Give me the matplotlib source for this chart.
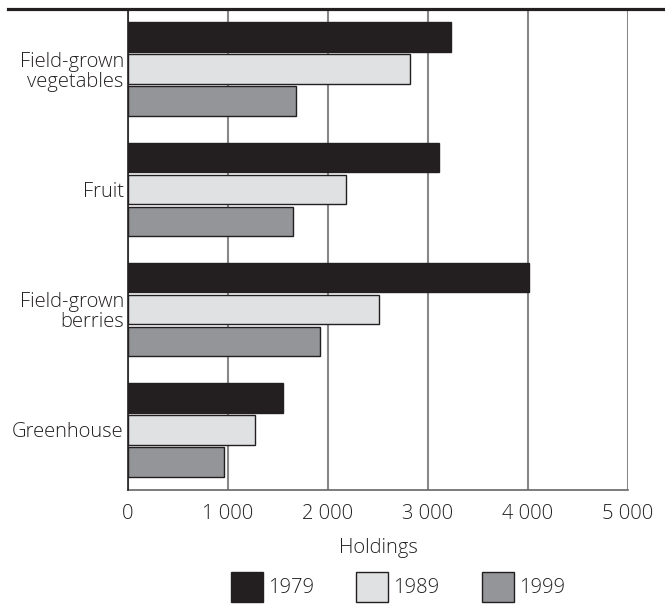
import matplotlib
matplotlib.use("Agg")
import matplotlib.pyplot as plt
import numpy as np
from matplotlib.lines import Line2D

plt.rcParams['font.family'] = ['Open Sans', 'DejaVu Sans']
plt.rcParams['font.weight'] = 'light'
plt.rcParams['axes.labelweight'] = 'light'

categories = ["Field-grown\nvegetables", "Fruit", "Field-grown\nberries", "Greenhouse"]
years = ["1979", "1989", "1999"]
v1979 = [3230, 3110, 4010, 1550]
v1989 = [2820, 2180, 2510, 1270]
v1999 = [1680, 1650, 1920, 960]
xticks = [0, 1000, 2000, 3000, 4000, 5000]
xticklabels = ["0", "1 000", "2 000", "3 000", "4 000", "5 000"]

colors = ["#231f20", "#e0e1e2", "#939598"]
ink = "#231f20"

W, H = 665, 604
fig = plt.figure(figsize=(W / 100, H / 100), dpi=100)
ax = fig.add_axes([128 / W, 1 - 490 / H, 500 / W, 481 / H])

y = np.arange(len(categories))
step = 32 / 120
h = 29.5 / 120
series = [v1979, v1989, v1999]
for i, (vals, c, lab) in enumerate(zip(series, colors, years)):
    ax.barh(y + (i - 1) * step, vals, height=h, color=c, edgecolor=ink,
            linewidth=1.0, label=lab, zorder=3)

ax.set_xlim(0, 5000)
ax.set_ylim(3.5, -0.5)
ax.set_xticks(xticks)
ax.set_xticklabels(xticklabels)
ax.set_yticks(y)
ax.set_yticklabels(categories, linespacing=1.0)
ax.tick_params(axis='both', length=0, labelsize=14.5, colors=ink)
ax.tick_params(axis='x', pad=10)
ax.tick_params(axis='y', pad=3)
ax.xaxis.grid(True, color="#888888", linewidth=1.5, zorder=0)
ax.set_axisbelow(True)
for s in ["top", "right"]:
    ax.spines[s].set_visible(False)
ax.spines["left"].set_color(ink)
ax.spines["left"].set_linewidth(1.2)
ax.spines["left"].set_zorder(4)
ax.spines["bottom"].set_color("#666666")
ax.spines["bottom"].set_linewidth(1.2)

ax.set_xlabel("Holdings", fontsize=14.5, color=ink, labelpad=10,
              fontweight='light')

fig.add_artist(Line2D([8 / W, 1.0], [1 - 8.5 / H, 1 - 8.5 / H],
                      transform=fig.transFigure, color=ink, linewidth=2.3))

fs_px = 14.5 * 100 / 72
fig.legend(loc="center", bbox_to_anchor=(398 / W, 1 - 587 / H), ncol=3,
           frameon=False, fontsize=14.5, handlelength=32 / fs_px,
           handleheight=38 / fs_px, handletextpad=5 / fs_px,
           columnspacing=42 / fs_px, borderpad=0, labelcolor=ink)

fig.savefig("out.png", dpi=100)
